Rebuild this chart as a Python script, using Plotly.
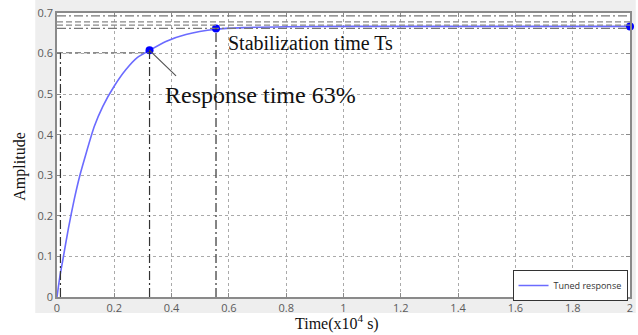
import plotly.graph_objects as go

# ---- data ----
time_pts = [0, 0.01, 0.02, 0.04, 0.06, 0.08, 0.10, 0.13, 0.16, 0.20, 0.24, 0.28,
            0.323, 0.38, 0.45, 0.555, 0.65, 0.80, 1.0, 1.4, 2.0]
amp_pts = [0, 0.05, 0.09, 0.17, 0.24, 0.30, 0.35, 0.42, 0.47, 0.52, 0.56, 0.59,
           0.608, 0.63, 0.647, 0.66, 0.664, 0.666, 0.667, 0.667, 0.667]

mark_t = [0.323, 0.555, 2.0]
mark_amp = [0.608, 0.662, 0.667]

resp_t, resp_amp = 0.323, 0.608
stab_t, stab_amp = 0.555, 0.662
start_t = 0.012
level_60 = 0.602
band_dashdot = [0.693, 0.662]
band_dash = [0.678, 0.670]

x_ticks = [0, 0.2, 0.4, 0.6, 0.8, 1, 1.2, 1.4, 1.6, 1.8, 2]
x_tick_text = ["0", "0.2", "0.4", "0.6", "0.8", "1", "1.2", "1.4", "1.6", "1.8", "2"]
y_ticks = [0, 0.1, 0.2, 0.3, 0.4, 0.5, 0.6, 0.7]
y_tick_text = ["0", "0.1", "0.2", "0.3", "0.4", "0.5", "0.6", "0.7"]

legend_name = "Tuned response"
label_resp = "Response time 63%"
label_stab = "Stabilization time Ts"
x_title = "Time(x10<sup>4</sup> s)"
y_title = "Amplitude"

SERIF = "Liberation Serif, Times New Roman, serif"
TICKFONT = dict(family="Open Sans, DejaVu Sans, sans-serif", size=11, color="#5a5a5a")
DASHDOT = "9px,3px,2px,3px"

fig = go.Figure()

fig.add_trace(go.Scatter(
    x=time_pts, y=amp_pts, mode="lines", name=legend_name,
    line=dict(color="#6b6bff", width=1.6, shape="spline", smoothing=0.6),
    cliponaxis=False,
))
fig.add_trace(go.Scatter(
    x=mark_t, y=mark_amp, mode="markers", showlegend=False,
    marker=dict(color="#0000ff", size=8), cliponaxis=False,
))

shapes = []
# grey figure surround and white axes area
shapes.append(dict(type="rect", xref="paper", yref="paper", x0=-0.038, x1=1.01,
                   y0=-0.056, y1=1.05, fillcolor="#eeeeee", line=dict(width=0), layer="below"))
shapes.append(dict(type="rect", xref="paper", yref="paper", x0=0, x1=1,
                   y0=0, y1=1, fillcolor="white", line=dict(width=0), layer="below"))
# top band lines
for yv in band_dashdot:
    shapes.append(dict(type="line", xref="x", yref="y", x0=0, x1=2, y0=yv, y1=yv,
                       line=dict(color="#777777", width=1.2, dash=DASHDOT)))
for yv in band_dash:
    shapes.append(dict(type="line", xref="x", yref="y", x0=0, x1=2, y0=yv, y1=yv,
                       line=dict(color="#888888", width=1.2, dash="6px,3px")))
# reference lines
shapes.append(dict(type="line", xref="x", yref="y", x0=0, x1=resp_t, y0=level_60, y1=level_60,
                   line=dict(color="#666666", width=1.2, dash="6px,3px")))
shapes.append(dict(type="line", xref="x", yref="y", x0=start_t, x1=start_t, y0=0, y1=level_60,
                   line=dict(color="#333333", width=1.2, dash=DASHDOT)))
shapes.append(dict(type="line", xref="x", yref="y", x0=resp_t, x1=resp_t, y0=0, y1=resp_amp,
                   line=dict(color="#333333", width=1.2, dash=DASHDOT)))
shapes.append(dict(type="line", xref="x", yref="y", x0=stab_t, x1=stab_t, y0=0, y1=stab_amp,
                   line=dict(color="#333333", width=1.2, dash=DASHDOT)))

annotations = [
    dict(x=resp_t, y=resp_amp, xref="x", yref="y", text="", showarrow=True,
         arrowhead=0, arrowwidth=1.2, arrowcolor="#555555", ax=28, ay=27, standoff=0),
    dict(x=0.37, y=0.497, xref="x", yref="y", text=label_resp, showarrow=False,
         xanchor="left", yanchor="middle", font=dict(family=SERIF, size=24, color="#111111")),
    dict(x=0.59, y=0.625, xref="x", yref="y", text=label_stab, showarrow=False,
         xanchor="left", yanchor="middle", font=dict(family=SERIF, size=20, color="#111111")),
    dict(x=0.489, y=-0.09, xref="paper", yref="paper", text=x_title, showarrow=False,
         xanchor="center", yanchor="middle", font=dict(family=SERIF, size=16, color="#111111")),
    dict(x=-0.064, y=0.46, xref="paper", yref="paper", text=y_title, showarrow=False,
         textangle=-90, xanchor="center", yanchor="middle",
         font=dict(family=SERIF, size=16, color="#111111")),
]

fig.update_layout(
    width=638, height=335,
    margin=dict(l=57, r=5, t=12, b=38),
    paper_bgcolor="white", plot_bgcolor="rgba(0,0,0,0)",
    shapes=shapes, annotations=annotations,
    showlegend=True,
    legend=dict(x=0.795, y=0.095, xanchor="left", yanchor="top",
                bgcolor="white", bordercolor="#333333", borderwidth=1,
                font=dict(family="Open Sans, sans-serif", size=9, color="#333333")),
    xaxis=dict(range=[0, 2], tickvals=x_ticks, ticktext=x_tick_text,
               showgrid=True, gridcolor="#aaaaaa", griddash="dot", gridwidth=1,
               zeroline=False, showline=True, linecolor="#8a8a8a", linewidth=1.5,
               mirror="ticks", ticks="inside", ticklen=4, tickcolor="#8a8a8a",
               tickfont=TICKFONT),
    yaxis=dict(range=[0, 0.7], tickvals=y_ticks, ticktext=y_tick_text,
               showgrid=True, gridcolor="#aaaaaa", griddash="dot", gridwidth=1,
               zeroline=False, showline=True, linecolor="#8a8a8a", linewidth=1.5,
               mirror="ticks", ticks="inside", ticklen=4, tickcolor="#8a8a8a",
               tickfont=TICKFONT),
)

fig.write_html("out.html", config={"displayModeBar": False},
               post_script="document.body.style.margin='0';document.body.style.overflow='hidden';")
